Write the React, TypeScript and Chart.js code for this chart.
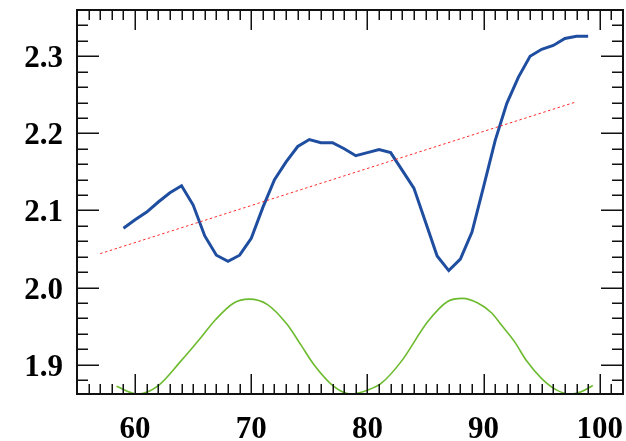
import { useEffect, useRef } from "react";
import { Chart, registerables } from "chart.js";

Chart.register(...registerables);

const X_MIN = 55;
const X_MAX = 102;
const Y_MIN = 1.862;
const Y_MAX = 2.36;

const xTickValues = [60, 70, 80, 90, 100];
const yTickValues = [1.9, 2.0, 2.1, 2.2, 2.3];

const blueX = [
  59, 60, 61, 62, 63, 64, 65, 66, 67, 68, 69, 70, 71, 72, 73, 74, 75, 76, 77, 78, 79,
  80, 81, 82, 83, 84, 85, 86, 87, 88, 89, 90, 91, 92, 93, 94, 95, 96, 97, 98, 99,
];
const blueY = [
  2.077, 2.088, 2.098, 2.111, 2.123, 2.132, 2.107, 2.067, 2.042, 2.034, 2.042, 2.064,
  2.104, 2.14, 2.163, 2.183, 2.192, 2.188, 2.188, 2.18, 2.171, 2.175, 2.179, 2.175,
  2.152, 2.129, 2.085, 2.041, 2.022, 2.037, 2.072, 2.131, 2.191, 2.239, 2.273, 2.3,
  2.309, 2.314, 2.323, 2.326, 2.326,
];

const greenX = [
  58.4, 60.2, 62.0, 63.9, 65.6, 66.9, 68.5, 69.8, 71.4, 73.1, 74.3, 75.4, 77.1, 78.6,
  80.0, 81.2, 82.9, 85.2, 86.9, 88.2, 89.5, 90.7, 91.5, 92.7, 93.7, 95.0, 96.3, 97.4,
  98.4, 99.4,
];
const greenY = [
  1.872, 1.862, 1.873, 1.904, 1.934, 1.958, 1.98, 1.985, 1.978, 1.952, 1.925, 1.9,
  1.872, 1.862, 1.867, 1.876, 1.904, 1.956, 1.982, 1.986, 1.98, 1.967, 1.952, 1.929,
  1.905, 1.882, 1.867, 1.862, 1.865, 1.873,
];

const trendX = [57, 98];
const trendY = [2.044, 2.241];

const toPoints = (xs: number[], ys: number[]) => xs.map((x, i) => ({ x, y: ys[i] }));

const framePlugin = {
  id: "frameTicks",
  afterDatasetsDraw(chart: any) {
    const { ctx, chartArea: a, scales } = chart;
    const xs = scales.x;
    const ys = scales.y;
    ctx.save();
    ctx.strokeStyle = "#111";
    ctx.lineWidth = 1.5;
    ctx.beginPath();
    for (let v = Math.ceil(X_MIN); v <= X_MAX; v++) {
      const px = Math.round(xs.getPixelForValue(v)) + 0.25;
      if (px <= a.left + 1 || px >= a.right - 1) continue;
      const len = v % 10 === 0 ? 20 : 10;
      ctx.moveTo(px, a.bottom);
      ctx.lineTo(px, a.bottom - len);
      ctx.moveTo(px, a.top);
      ctx.lineTo(px, a.top + len);
    }
    for (let i = 0; i < 40; i++) {
      const v = 1.86 + i * 0.02;
      if (v > Y_MAX + 1e-9) break;
      const py = Math.round(ys.getPixelForValue(v)) + 0.25;
      if (py <= a.top + 1 || py >= a.bottom - 1) continue;
      const major = Math.abs(v * 10 - Math.round(v * 10)) < 1e-6;
      const len = major ? 22 : 11;
      ctx.moveTo(a.left, py);
      ctx.lineTo(a.left + len, py);
      ctx.moveTo(a.right, py);
      ctx.lineTo(a.right - len, py);
    }
    ctx.stroke();
    ctx.lineWidth = 2;
    ctx.strokeRect(a.left, a.top, a.right - a.left, a.bottom - a.top);
    ctx.restore();
  },
};

const tickFont = { family: "'Liberation Serif', 'DejaVu Serif', serif", weight: "bold" as const, size: 31 };

export default function App() {
  const ref = useRef<HTMLCanvasElement | null>(null);

  useEffect(() => {
    if (!ref.current) return;
    const chart = new Chart(ref.current, {
      type: "line",
      data: {
        datasets: [
          {
            data: toPoints(greenX, greenY),
            borderColor: "#6cbb2e",
            borderWidth: 1.6,
            pointRadius: 0,
            cubicInterpolationMode: "monotone",
            fill: false,
          },
          {
            data: toPoints(trendX, trendY),
            borderColor: "#ff2a2a",
            borderWidth: 1,
            borderDash: [2.5, 2.5],
            pointRadius: 0,
            fill: false,
          },
          {
            data: toPoints(blueX, blueY),
            borderColor: "#1f4ea0",
            borderWidth: 3,
            pointRadius: 0,
            tension: 0,
            fill: false,
          },
        ],
      },
      plugins: [framePlugin],
      options: {
        animation: false,
        responsive: false,
        layout: { padding: { top: 10, right: 3, left: 0, bottom: 0 } },
        plugins: { legend: { display: false }, tooltip: { enabled: false } },
        scales: {
          x: {
            type: "linear",
            min: X_MIN,
            max: X_MAX,
            grid: { display: false, drawTicks: false },
            border: { display: false },
            afterBuildTicks: (s: any) => {
              s.ticks = xTickValues.map((v) => ({ value: v }));
            },
            afterFit: (s: any) => {
              s.height = 47;
              s.paddingLeft = 0;
              s.paddingRight = 0;
            },
            ticks: {
              color: "#000",
              font: tickFont,
              padding: 17,
              maxRotation: 0,
              autoSkip: false,
              callback: (v: any) => String(v),
            },
          },
          y: {
            type: "linear",
            min: Y_MIN,
            max: Y_MAX,
            grid: { display: false, drawTicks: false },
            border: { display: false },
            afterBuildTicks: (s: any) => {
              s.ticks = yTickValues.map((v) => ({ value: v }));
            },
            afterFit: (s: any) => {
              s.width = 77;
              s.paddingTop = 0;
              s.paddingBottom = 0;
            },
            ticks: {
              color: "#000",
              font: tickFont,
              padding: 14,
              labelOffset: 3,
              autoSkip: false,
              callback: (v: any) => Number(v).toFixed(1),
            },
          },
        },
      },
    });
    return () => chart.destroy();
  }, []);

  return (
    <div style={{ position: "absolute", left: 0, top: 0, width: 626, height: 441, background: "#fff" }}>
      <canvas ref={ref} width={626} height={441} style={{ width: 626, height: 441, display: "block" }} />
    </div>
  );
}
